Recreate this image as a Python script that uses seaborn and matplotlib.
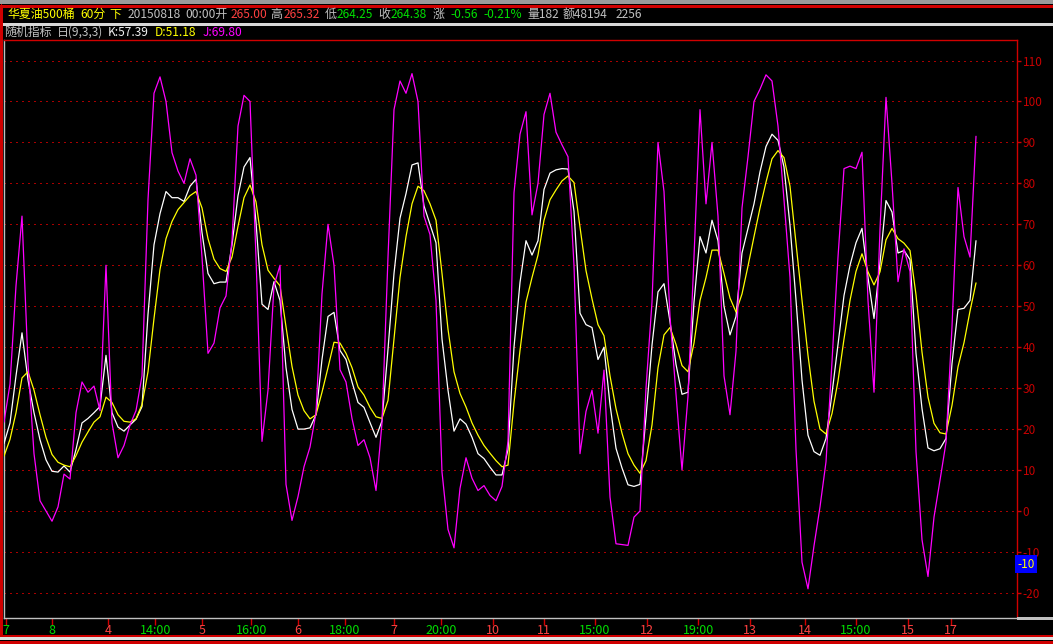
import matplotlib
matplotlib.use("Agg")
import matplotlib.pyplot as plt
from matplotlib.lines import Line2D
from matplotlib.patches import Rectangle
import numpy as np
import pandas as pd
import seaborn as sns

# KDJ (9,3,3) values, one per bar
k_vals = [16.5, 21.5, 33, 43.5, 32, 24, 17.4, 12.5, 9.7, 9.5,
          11, 9.5, 15, 21.5, 22.6, 24, 25.5, 38, 24, 20.5,
          19.5, 21, 22.4, 25.5, 48, 65, 72.6, 78, 76.5, 76.5,
          75.6, 79.3, 81,
          68, 58, 55.5, 55.9, 55.9, 65, 77, 84, 86.3, 70.5,
          50.5, 49.2, 56, 51.4, 35, 24.8, 20, 20, 20.3, 23.5,
          37, 47.5, 48.5, 39.2, 37, 31.5, 26.5, 25.3, 21.6, 18,
          22, 39.5, 58,
          71.5, 77.5, 84.5, 85, 74.5, 70, 65.5, 42, 29.5, 19.5,
          22.5, 21.2, 18, 14, 12.8, 10.7, 8.8, 8.8, 15, 40,
          55.8, 66, 62.5, 66, 78.5, 82.5, 83.3, 83.6, 83.5, 73.2,
          48.3, 45.5,
          44.8, 37, 40, 26, 15.3, 10.5, 6.4, 6, 6.5, 23,
          40.5, 53.5, 55.5, 46.2, 35.8, 28.5, 29, 51, 67, 63,
          71, 66, 50, 43, 47.5, 63, 69, 75, 82.8, 89,
          92, 90.5, 84,
          69.7, 51.5, 32, 18.5, 14.5, 13.6, 17.7, 28.7, 40.7, 52.6,
          60, 65.5, 69, 57, 47, 60.6, 75.8, 73, 63, 63.6,
          61.4, 38.5, 25, 15.4, 14.7, 15.2, 17.7, 36, 49.2, 49.5,
          51.4, 66]

d_vals = [13.4, 17.5, 24, 32.5, 34, 29.5, 23.5, 18, 13.8, 11.9,
          11.2, 10.8, 13.5, 16.8, 19.3, 21.7, 23, 27.8, 26.5, 23.5,
          21.9, 21.7, 22.5, 26, 34, 47, 59, 66.5, 70.7, 73.6,
          75.3, 77, 78,
          74, 66.5, 61.5, 59.2, 58.5, 62, 69.5, 76.5, 79.6, 75.5,
          65, 58.8, 56.8, 55, 45, 35.3, 28.3, 24.5, 22.5, 23.5,
          29, 35, 41.2, 41, 38.5, 35, 30.3, 28.3, 25.3, 23,
          22.6, 27, 42,
          57, 67, 75, 79.3, 78.2, 75, 71, 58, 44.4, 34,
          28.7, 25.4, 21.5, 18.5, 16, 14.1, 12.3, 10.8, 11.2, 26.4,
          39.2, 51, 57, 62.5, 71, 76, 78.4, 80.6, 81.8, 80.2,
          69.3, 58.7,
          51.8, 45.5, 42.8, 33, 25, 19, 14, 11.2, 9.2, 12.3,
          21, 35, 43, 44.8, 40.7, 35.5, 34, 41, 51.4, 57,
          63.7, 63.7, 58, 52, 48.6, 53, 59.8, 67, 74, 80.3,
          86, 88, 86.3,
          79.3, 65.4, 51.5, 38, 26.8, 20, 18.8, 23.8, 31.7, 42,
          51.4, 58.5, 62.8, 58.4, 55.2, 58.4, 66.2, 69, 66.5, 65.4,
          63.6, 52.8, 38.8, 27.8, 21.4, 19.1, 18.8, 25.8, 35.2, 41.1,
          48.8, 55.7]

j_vals = [21.7, 31, 55, 72, 36, 14, 2.5, 0, -2.5, 1,
          9, 7.8, 24, 31.5, 29, 30.5, 24.5, 60, 21.5, 13,
          16, 21, 24.5, 33, 76, 102, 106, 100, 87.5, 83,
          80, 86, 82,
          62, 38.5, 41, 49.6, 52.5, 66, 94, 101.5, 100, 62,
          17, 29.5, 55, 60, 6.5, -2.3, 3.5, 10.8, 15.6, 24,
          53, 70, 60, 34.5, 31.5, 22.6, 16, 17.4, 13, 5,
          21.5, 62, 98,
          105, 102, 106.8, 100, 72, 67.5, 51.4, 9.5, -4.5, -9,
          5.5, 13, 8, 5, 6.2, 3.8, 2.5, 6, 17, 77.7,
          92, 97.5, 72.3, 80, 96.8, 102, 92.5, 89.4, 86.5, 60,
          14, 24.3,
          29.5, 19, 34.4, 3.4, -8, -8.2, -8.4, -1.5, 0, 30,
          51, 90, 78, 47.5, 28.5, 10, 28, 62, 98, 75,
          90, 72, 33, 23.5, 39, 74, 86.5, 100, 103, 106.5,
          105, 94, 76,
          57, 15, -12.5, -19, -8.5, 1, 12, 36.5, 62, 83.6,
          84.2, 83.6, 87.6, 51.4, 29, 68.8, 101, 80, 56, 64,
          58.5, 14.5, -7, -16, -1.5, 7.5, 16.7, 45, 79, 67,
          62, 91.5]

# x axis labels (bar index where each label sits)
tick_pos = [0.3, 8, 17.3, 25.2, 33, 41.2, 49, 56.8, 65, 72.8,
            81.5, 90, 98.5, 107.2, 115.7, 124.3, 133.5, 142, 150.7, 157.8]
tick_labels = ['7', '8', '4', '14:00', '5', '16:00', '6', '18:00', '7', '20:00',
               '10', '11', '15:00', '12', '19:00', '13', '14', '15:00', '15', '17']
y_ticks = list(range(-20, 111, 10))

df = pd.DataFrame({'bar': np.arange(len(k_vals)), 'K': k_vals, 'D': d_vals, 'J': j_vals})

sns.set_style("dark")
plt.rcParams['font.family'] = ['Noto Sans CJK SC', 'DejaVu Sans']

W, H = 1053, 644
fig = plt.figure(figsize=(W / 100, H / 100), dpi=100, facecolor='black')

# pixel helpers
def fx(x):
    return x / W

def fy(y):
    return 1 - y / H

red = '#d00000'
grid_red = '#a80000'
gray = '#c0c0c0'

ax = fig.add_axes([fx(3.5), fy(617.5), (1017 - 3.5) / W, (617.5 - 40) / H])
ax.set_facecolor('black')

for v in y_ticks:
    ax.axhline(v, color=grid_red, lw=1, ls=(0, (1, 3)), antialiased=False, zorder=1)

sns.lineplot(data=df, x='bar', y='K', color='white', linewidth=0.9, estimator=None, ax=ax, zorder=3)
sns.lineplot(data=df, x='bar', y='D', color='#ffff00', linewidth=0.9, estimator=None, ax=ax, zorder=3)
sns.lineplot(data=df, x='bar', y='J', color='#ff00ff', linewidth=0.9, estimator=None, ax=ax, zorder=4)

# bar i sits at pixel 4 + 6 i
ax.set_xlim((3.5 - 4) / 6, (1017 - 4) / 6)
ax.set_ylim(-(617.5 - 511) / 4.095, 110 + (60.5 - 40) / 4.095)
ax.set_xlabel('')
ax.set_ylabel('')
ax.grid(False)

ax.yaxis.tick_right()
ax.set_yticks(y_ticks)
ax.set_yticklabels([str(v) for v in y_ticks])
ax.tick_params(axis='y', right=True, left=False, direction='out', length=3, width=1,
               color=red, labelcolor='#c80000', labelsize=8.5, pad=1)

ax.set_xticks(tick_pos)
ax.set_xticklabels(tick_labels)
ax.tick_params(axis='x', bottom=True, direction='out', length=5, width=1,
               color=red, labelsize=9, pad=0)
for i, lab in enumerate(ax.get_xticklabels()):
    if ':' in tick_labels[i] or i < 2:
        lab.set_color('#00dd00')
    else:
        lab.set_color('#ff4040')

for side in ['top', 'right']:
    ax.spines[side].set_color(red)
    ax.spines[side].set_linewidth(1)
for side in ['left', 'bottom']:
    ax.spines[side].set_color(gray)
    ax.spines[side].set_linewidth(1)

# frame lines around the panel
fig.patches.append(Rectangle((0, fy(4)), 1, 4 / H, transform=fig.transFigure,
                             facecolor='#9a9a9a', edgecolor='none'))
def hline(y, x0, x1, c, lw=1):
    fig.add_artist(Line2D([fx(x0), fx(x1)], [fy(y), fy(y)], color=c, lw=lw, antialiased=False))

def vline(x, y0, y1, c, lw=1):
    fig.add_artist(Line2D([fx(x), fx(x)], [fy(y0), fy(y1)], color=c, lw=lw, antialiased=False))

hline(5.5, 0, W, red)
hline(23.5, 0, W, '#d8d8d8', lw=0.8)
vline(0.8, 5, 636, red)
hline(617.5, 1017, W, gray)
hline(636, 0, W, red)
hline(638, 0, W, '#e0e0e0')
hline(642, 0, W, red)

# header row 1
row1 = [
    ('华夏油500桶', 7, '#ffff00'), ('60分', 80, '#ffff00'), ('下', 109, '#ffff00'),
    ('20150818', 128, gray), ('00:00开', 185, gray), ('265.00', 231, '#ff4040'),
    ('高', 270, gray), ('265.32', 284, '#ff4040'), ('低', 325, gray),
    ('264.25', 337, '#00e000'), ('收', 378, gray), ('264.38', 391, '#00e000'),
    ('涨', 433, gray), ('-0.56', 450, '#00e000'), ('-0.21%', 483, '#00e000'),
    ('量182', 527, gray), ('额48194', 563, gray), ('2256', 616, gray),
]
for s, x, c in row1:
    fig.text(fx(x), fy(14.5), s, color=c, fontsize=8.6, ha='left', va='center')

# header row 2
row2 = [
    ('随机指标', 4, gray), ('日(9,3,3)', 57, gray), ('K:57.39', 108, '#f0f0f0'),
    ('D:51.18', 155, '#ffff00'), ('J:69.80', 203, '#ff00ff'),
]
for s, x, c in row2:
    fig.text(fx(x), fy(32), s, color=c, fontsize=8.6, ha='left', va='center')

# cursor value box on the right scale
fig.text(fx(1017), fy(564), '-10', color='#ffff00', fontsize=8.5, ha='left', va='center',
         bbox=dict(boxstyle='square,pad=0.2', facecolor='#0000ff', edgecolor='none'))

fig.savefig('out.png', dpi=100, facecolor='black')
